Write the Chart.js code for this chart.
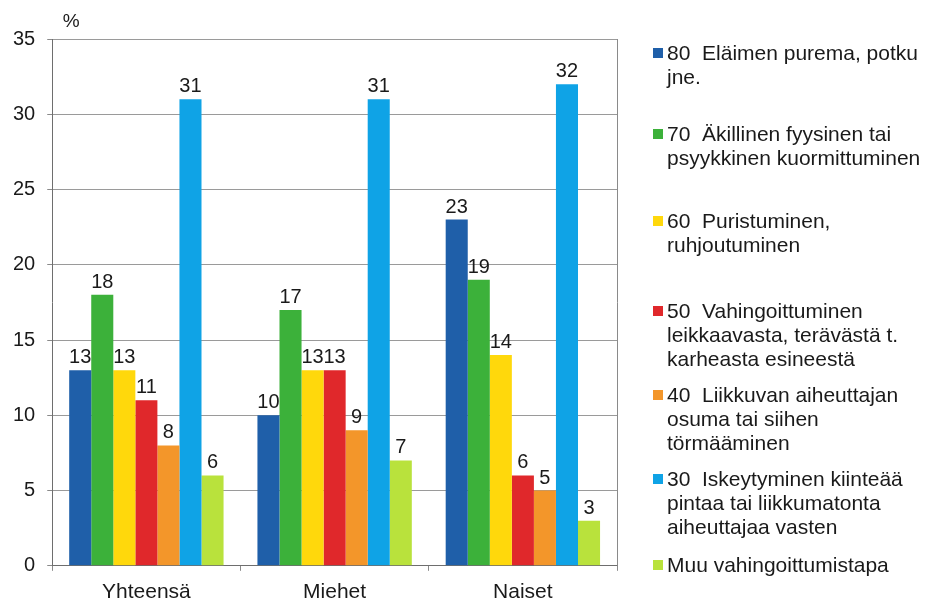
<!DOCTYPE html>
<html><head><meta charset="utf-8">
<script src="https://cdn.jsdelivr.net/npm/chart.js@4.4.1/dist/chart.umd.min.js"></script>
<style>
html,body{margin:0;padding:0;background:#fff;overflow:hidden;width:932px;height:601px}
#wrap{position:relative;width:932px;height:616px}
</style>
</head><body><div id="wrap"><canvas id="c" width="932" height="616"></canvas></div>
<script>
// ---- data ----
const categories = ['Yhteensä', 'Miehet', 'Naiset'];
const legendLines = [
  ['80  Eläimen purema, potku', 'jne.'],
  ['70  Äkillinen fyysinen tai', 'psyykkinen kuormittuminen'],
  ['60  Puristuminen,', 'ruhjoutuminen'],
  ['50  Vahingoittuminen', 'leikkaavasta, terävästä t.', 'karheasta esineestä'],
  ['40  Liikkuvan aiheuttajan', 'osuma tai siihen', 'törmääminen'],
  ['30  Iskeytyminen kiinteää', 'pintaa tai liikkumatonta', 'aiheuttajaa vasten'],
  ['Muu vahingoittumistapa']
];
const s80 = [13, 10, 23];
const s70 = [18, 17, 19];
const s60 = [13, 13, 14];
const s50 = [11, 13, 6];
const s40 = [8, 9, 5];
const s30 = [31, 31, 32];
const sMuu = [6, 7, 3];
const yMin = 0, yMax = 35, yStep = 5;
const unitLabel = '%';

// ---- styles ----
const colors = ['#1f5fa9', '#3cb13a', '#ffd80c', '#e0282b', '#f3962a', '#0fa3e6', '#b9e23c'];
const seriesValues = [s80, s70, s60, s50, s40, s30, sMuu];
const FONT = '"Liberation Sans", Arial, sans-serif';
const legendTop = [54, 135, 222, 312, 396, 480, 566];

const datasets = seriesValues.map((vals, i) => ({
  label: legendLines[i].join(' '),
  data: vals,
  backgroundColor: colors[i],
  borderWidth: 0,
  categoryPercentage: 0.82,
  barPercentage: 1.0
}));

const extras = {
  id: 'extras',
  afterDatasetsDraw(chart) {
    const ctx = chart.ctx;
    ctx.save();
    ctx.fillStyle = '#1a1a1a';
    ctx.font = '20px ' + FONT;
    ctx.textAlign = 'center';
    ctx.textBaseline = 'alphabetic';
    chart.data.datasets.forEach((ds, di) => {
      const meta = chart.getDatasetMeta(di);
      meta.data.forEach((bar, j) => {
        ctx.fillText(String(ds.data[j]), bar.x, bar.y - 7);
      });
    });
    // right border of plot area
    const a = chart.chartArea;
    ctx.strokeStyle = '#8a8a8a';
    ctx.lineWidth = 1;
    ctx.beginPath();
    ctx.moveTo(Math.round(a.right) + 0.5, a.top);
    ctx.lineTo(Math.round(a.right) + 0.5, a.bottom);
    ctx.stroke();
    // unit label
    ctx.textAlign = 'center';
    ctx.textBaseline = 'middle';
    ctx.font = '19px ' + FONT;
    ctx.fillText(unitLabel, a.left + 19, 22);
    // legend
    ctx.textAlign = 'left';
    ctx.font = '21px ' + FONT;
    chart.data.datasets.forEach((ds, di) => {
      const y0 = legendTop[di];
      ctx.fillStyle = ds.backgroundColor;
      ctx.fillRect(653, y0 - 6, 10, 10);
      ctx.fillStyle = '#1a1a1a';
      legendLines[di].forEach((ln, k) => {
        ctx.fillText(ln, 667, y0 + k * 24);
      });
    });
    ctx.restore();
  }
};

new Chart(document.getElementById('c'), {
  type: 'bar',
  data: { labels: categories, datasets },
  options: {
    responsive: false,
    animation: false,
    layout: { padding: { left: 1, right: 315, top: 39, bottom: 2 } },
    plugins: { legend: { display: false }, tooltip: { enabled: false } },
    scales: {
      x: {
        grid: {
          display: true,
          offset: true,
          drawOnChartArea: false,
          drawTicks: true,
          tickLength: 5,
          color: '#8a8a8a',
          tickColor: '#8a8a8a'
        },
        border: { display: true, color: '#6e6e6e', width: 1 },
        ticks: { color: '#1a1a1a', font: { family: FONT, size: 21 }, padding: 9 }
      },
      y: {
        min: yMin, max: yMax,
        grid: { color: '#9a9a9a', tickColor: '#8a8a8a', tickLength: 5, lineWidth: 1 },
        border: { display: true, color: '#6e6e6e', width: 1 },
        ticks: { stepSize: yStep, color: '#1a1a1a', font: { family: FONT, size: 20 }, padding: 12 }
      }
    }
  },
  plugins: [extras]
});
</script>
</body></html>
